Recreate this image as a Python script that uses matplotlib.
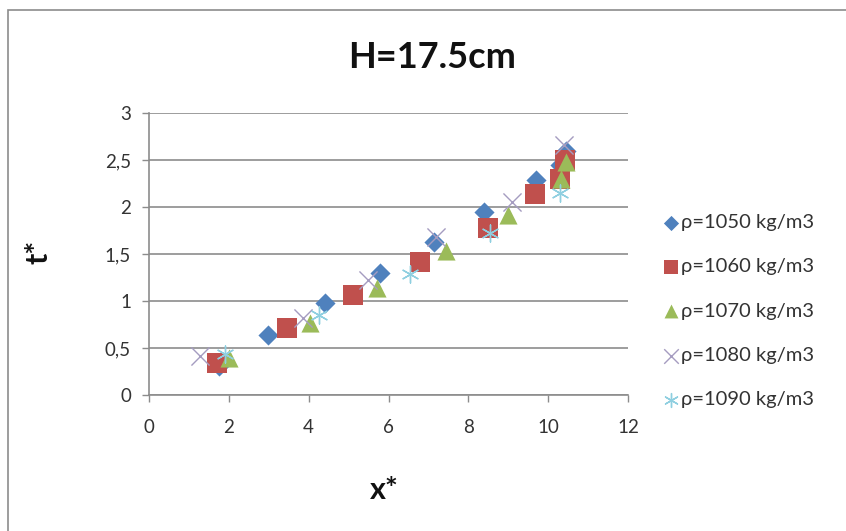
import matplotlib
matplotlib.use("Agg")
import matplotlib.pyplot as plt
from matplotlib.patches import Rectangle
from matplotlib.ticker import FuncFormatter, MultipleLocator

plt.rcParams['font.family'] = ['Lato', 'DejaVu Sans']

# Dimensionless front position x* and time t* for each fluid density
x_1050 = [1.75, 2.98, 4.41, 5.79, 7.14, 8.40, 9.70, 10.30, 10.45]
t_1050 = [0.31, 0.64, 0.98, 1.30, 1.63, 1.95, 2.29, 2.45, 2.60]

x_1060 = [1.70, 3.46, 5.11, 6.79, 8.50, 9.67, 10.30, 10.42]
t_1060 = [0.34, 0.71, 1.06, 1.42, 1.78, 2.14, 2.30, 2.50]

x_1070 = [2.00, 4.03, 5.71, 7.44, 9.00, 10.33, 10.45]
t_1070 = [0.39, 0.77, 1.14, 1.53, 1.91, 2.30, 2.48]

x_1080 = [1.28, 3.86, 5.49, 7.20, 9.10, 10.40]
t_1080 = [0.41, 0.82, 1.22, 1.68, 2.05, 2.66]

x_1090 = [1.90, 4.25, 6.54, 8.55, 10.30]
t_1090 = [0.44, 0.85, 1.29, 1.72, 2.15]

labels = ["ρ=1050 kg/m3", "ρ=1060 kg/m3", "ρ=1070 kg/m3",
          "ρ=1080 kg/m3", "ρ=1090 kg/m3"]

fig = plt.figure(figsize=(8.46, 5.31), dpi=100)
fig.patch.set_facecolor("white")

# chart area frame
fig.add_artist(Rectangle((8 / 846, -0.05), 1.0, 1 - 10 / 531 + 0.05,
                         transform=fig.transFigure, fill=False,
                         edgecolor="#8c8c8c", linewidth=1.2))

ax = fig.add_axes([149 / 846, 1 - 395 / 531, (628 - 149) / 846, (395 - 113) / 531])

ax.scatter(x_1050, t_1050, marker="D", s=105, color="#4F81BD", label=labels[0], zorder=3, linewidths=0)
ax.scatter(x_1060, t_1060, marker="s", s=190, color="#C0504D", label=labels[1], zorder=3, linewidths=0)
ax.scatter(x_1070, t_1070, marker="^", s=170, color="#9BBB59", label=labels[2], zorder=3, linewidths=0)
ax.scatter(x_1080, t_1080, marker="x", s=170, color="#A59CC0", label=labels[3], zorder=3, linewidths=1.0)
ax.scatter(x_1090, t_1090, marker=(6, 2, 0), s=150, color="#8FCFE0", label=labels[4], zorder=3, linewidths=1.0)

ax.set_xlim(0, 12)
ax.set_ylim(0, 3)
ax.xaxis.set_major_locator(MultipleLocator(2))
ax.yaxis.set_major_locator(MultipleLocator(0.5))

def comma(v, pos):
    s = f"{v:g}"
    return s.replace(".", ",")

ax.yaxis.set_major_formatter(FuncFormatter(comma))
ax.xaxis.set_major_formatter(FuncFormatter(comma))

ax.grid(axis="y", color="#8c8c8c", linewidth=1.2)
ax.set_axisbelow(True)
for side in ("top", "right"):
    ax.spines[side].set_visible(False)
for side in ("left", "bottom"):
    ax.spines[side].set_color("#8c8c8c")
    ax.spines[side].set_linewidth(1.2)

ax.tick_params(axis="both", colors="#8c8c8c", labelcolor="#333333",
               labelsize=13.5, length=5, width=1)
ax.tick_params(axis="x", pad=12)
ax.tick_params(axis="y", pad=8)

fig.text(432 / 846, 1 - 58 / 531, "H=17.5cm", ha="center", va="center",
         fontsize=26, fontweight="bold", color="#111111")
fig.text(38 / 846, 1 - 252 / 531, "t*", ha="center", va="center",
         rotation=90, fontsize=22, fontweight="bold", color="#111111")
fig.text(384 / 846, 1 - 490 / 531, "x*", ha="center", va="center",
         fontsize=22, fontweight="bold", color="#111111")

leg = ax.legend(loc="center left", bbox_to_anchor=(644 / 846, 1 - 311 / 531),
                bbox_transform=fig.transFigure, frameon=False,
                fontsize=14.5, labelspacing=1.35, handletextpad=0.05,
                handlelength=0.9)
for h, s in zip(leg.legend_handles, [60, 110, 100, 110, 100]):
    h.set_sizes([s])
for t in leg.get_texts():
    t.set_color("#333333")

fig.savefig("out.png", dpi=100)
